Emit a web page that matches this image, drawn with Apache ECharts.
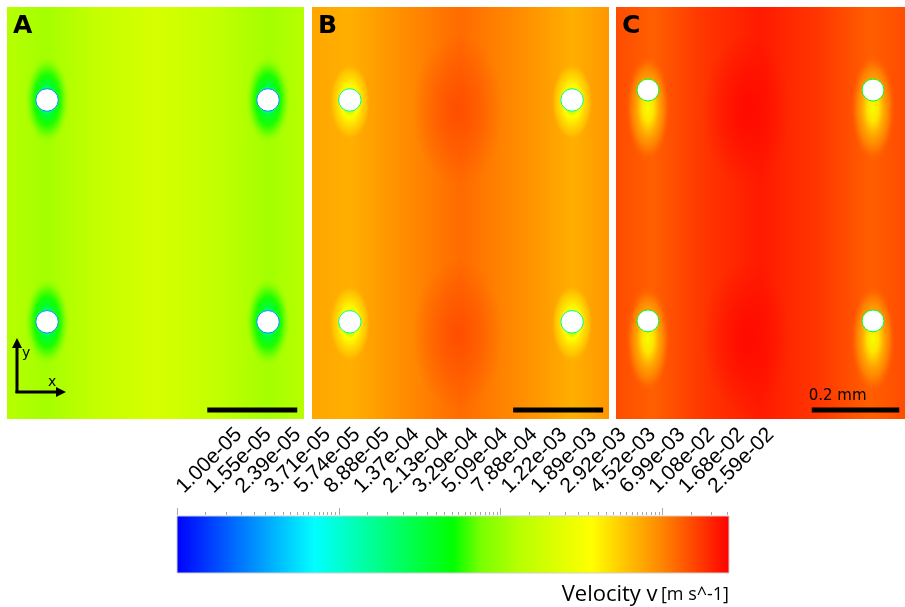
<!DOCTYPE html>
<html>
<head>
<meta charset="utf-8">
<script src="https://cdn.jsdelivr.net/npm/echarts@6/dist/echarts.min.js"></script>
<style>
html, body { margin: 0; padding: 0; background: #fff; }
#chart { width: 905px; height: 607px; }
</style>
</head>
<body>
<div id="chart"></div>
<script>
// legend scale, velocity v [m s^-1]
const vMin = 1.00e-5;
const vMax = 2.59e-2;
const tickLabels = ['1.00e-05', '1.55e-05', '2.39e-05', '3.71e-05', '5.74e-05', '8.88e-05',
  '1.37e-04', '2.13e-04', '3.29e-04', '5.09e-04', '7.88e-04', '1.22e-03', '1.89e-03',
  '2.92e-03', '4.52e-03', '6.99e-03', '1.08e-02', '1.68e-02', '2.59e-02'];

const panelLabels = ['A', 'B', 'C'];

// post centres [x, y] in mm
const postsA = [[0.089, 0.709], [0.580, 0.709], [0.089, 0.216], [0.580, 0.216]];
const postsB = [[0.084, 0.709], [0.578, 0.709], [0.084, 0.216], [0.578, 0.216]];
const postsC = [[0.073, 0.731], [0.587, 0.731], [0.073, 0.218], [0.587, 0.218]];
const postRadius = 0.025;

// velocity across the channel width (x in mm)
const profileX = [0, 0.085, 0.2, 0.33, 0.46, 0.58, 0.66];
const velA = [1.3e-3, 1.1e-3, 1.55e-3, 2.0e-3, 1.55e-3, 1.1e-3, 1.3e-3];
const velB = [7.6e-3, 7.0e-3, 9.2e-3, 1.2e-2, 9.4e-3, 7.0e-3, 8.6e-3];
const velC = [1.5e-2, 1.3e-2, 1.75e-2, 2.15e-2, 1.75e-2, 1.3e-2, 1.5e-2];

// fastest spots between the posts [x, y, v]
const coresA = [];
const coresB = [[0.324, 0.687, 1.5e-2], [0.324, 0.187, 1.5e-2]];
const coresC = [[0.298, 0.687, 2.45e-2], [0.298, 0.180, 2.45e-2]];

// slow wake around each post, from the wall outwards
const haloVelA = [1.6e-4, 3.5e-4, 5.5e-4, 8.5e-4, 1.1e-3];
const haloVelB = [1.3e-3, 3.6e-3, 5.0e-3, 6.2e-3, 7.0e-3];
const haloVelC = [3.0e-3, 4.5e-3, 7.5e-3, 1.05e-2, 1.3e-2];
const wallVel = [3.0e-5, 2.0e-4, 4.0e-4];

const scaleBarX = [0.445, 0.447, 0.447];
const scaleBarLen = 0.2;
const scaleBarText = ['', '', '0.2 mm'];

const posts = [postsA, postsB, postsC];
const profiles = [velA, velB, velC];
const cores = [coresA, coresB, coresC];
const haloVel = [haloVelA, haloVelB, haloVelC];

// drawing settings
const panelW = 0.66, panelH = 0.9156;
const panelLeft = [7, 312, 616];
const haloPos = [[0.2, 0.35, 0.55, 0.8, 1], [0.25, 0.4, 0.65, 0.85, 1], [0, 0.25, 0.5, 0.75, 1]];
const haloRx = [0.05, 0.045, 0.05];
const haloRy = [0.1, 0.085, 0.12];
const haloShift = [0, 0.004, 0.04];
const coreRx = 0.1, coreRy = 0.17;

const cmapPos = [0, 0.25, 0.5, 0.55, 0.62, 0.75, 0.875, 1];
const cmapRgb = [[0, 0, 255], [0, 255, 255], [0, 255, 0], [120, 255, 0], [184, 255, 0],
  [255, 255, 0], [255, 136, 0], [255, 0, 0]];

function rgbAt(t) {
  t = Math.max(0, Math.min(1, t));
  for (let i = 1; i < cmapPos.length; i++) {
    if (t <= cmapPos[i]) {
      const f = (t - cmapPos[i - 1]) / (cmapPos[i] - cmapPos[i - 1]);
      const a = cmapRgb[i - 1], b = cmapRgb[i];
      return a.map((c, k) => Math.round(c + (b[k] - c) * f));
    }
  }
  return cmapRgb[cmapRgb.length - 1];
}
function velColor(v, alpha) {
  const t = (Math.log10(v) - Math.log10(vMin)) / (Math.log10(vMax) - Math.log10(vMin));
  const c = rgbAt(t);
  return 'rgba(' + c[0] + ',' + c[1] + ',' + c[2] + ',' + (alpha == null ? 1 : alpha) + ')';
}

const chart = echarts.init(document.getElementById('chart'));

const grid = [], xAxis = [], yAxis = [], series = [];

panelLabels.forEach((name, p) => {
  grid.push({ left: panelLeft[p], top: 7, width: 297, height: 412 });
  xAxis.push({ gridIndex: p, type: 'value', min: 0, max: panelW, show: false });
  yAxis.push({ gridIndex: p, type: 'value', min: 0, max: panelH, show: false });

  // background field
  series.push({
    type: 'custom', xAxisIndex: p, yAxisIndex: p, z: 1, clip: true,
    data: [[0, 0]],
    renderItem: (params, api) => {
      const tl = api.coord([0, panelH]);
      const br = api.coord([panelW, 0]);
      const stops = profileX.map((x, i) => ({ offset: x / panelW, color: velColor(profiles[p][i]) }));
      return {
        type: 'rect',
        shape: { x: tl[0], y: tl[1], width: br[0] - tl[0], height: br[1] - tl[1] },
        style: { fill: new echarts.graphic.LinearGradient(0, 0, 1, 0, stops) }
      };
    }
  });

  // fast cores
  series.push({
    type: 'custom', xAxisIndex: p, yAxisIndex: p, z: 2, clip: true,
    data: cores[p],
    renderItem: (params, api) => {
      const c = api.coord([api.value(0), api.value(1)]);
      const v = api.value(2);
      const rx = Math.abs(api.size([coreRx, 0])[0]);
      const ry = Math.abs(api.size([0, coreRy])[1]);
      return {
        type: 'circle', x: c[0], y: c[1], scaleY: ry / rx,
        shape: { cx: 0, cy: 0, r: rx },
        style: {
          fill: new echarts.graphic.RadialGradient(0.5, 0.5, 0.5, [
            { offset: 0, color: velColor(v, 0.95) },
            { offset: 0.5, color: velColor(v, 0.5) },
            { offset: 1, color: velColor(v, 0) }
          ])
        }
      };
    }
  });

  // slow halos round posts
  series.push({
    type: 'custom', xAxisIndex: p, yAxisIndex: p, z: 3, clip: true,
    data: posts[p],
    renderItem: (params, api) => {
      const c = api.coord([api.value(0), api.value(1) - haloShift[p]]);
      const rx = Math.abs(api.size([haloRx[p], 0])[0]);
      const ry = Math.abs(api.size([0, haloRy[p]])[1]);
      const hv = haloVel[p];
      const stops = hv.map((v, i) => ({ offset: haloPos[p][i], color: velColor(v, i === hv.length - 1 ? 0 : 1) }));
      return {
        type: 'circle', x: c[0], y: c[1], scaleY: ry / rx,
        shape: { cx: 0, cy: 0, r: rx },
        style: { fill: new echarts.graphic.RadialGradient(0.5, 0.5, 0.5, stops) }
      };
    }
  });

  // posts
  series.push({
    type: 'custom', xAxisIndex: p, yAxisIndex: p, z: 4,
    data: posts[p],
    renderItem: (params, api) => {
      const c = api.coord([api.value(0), api.value(1)]);
      const r = Math.abs(api.size([postRadius, 0])[0]);
      return {
        type: 'circle',
        shape: { cx: c[0], cy: c[1], r: r },
        style: { fill: '#fff', stroke: velColor(wallVel[p]), lineWidth: 1 }
      };
    }
  });

  // scale bar
  series.push({
    type: 'custom', xAxisIndex: p, yAxisIndex: p, z: 5,
    data: [[scaleBarX[p], 0.02]],
    renderItem: (params, api) => {
      const a = api.coord([api.value(0), api.value(1)]);
      const b = api.coord([api.value(0) + scaleBarLen, api.value(1)]);
      return {
        type: 'group',
        children: [
          { type: 'rect', shape: { x: a[0], y: a[1] - 2.5, width: b[0] - a[0], height: 5 }, style: { fill: '#000' } },
          {
            type: 'text', x: a[0] - 3, y: a[1] - 6,
            style: { text: scaleBarText[p], fill: '#000', font: '15px "DejaVu Sans"', textVerticalAlign: 'bottom' }
          }
        ]
      };
    }
  });
});

// colour bar
const minorTicks = [];
[1e-5, 1e-4, 1e-3, 1e-2].forEach(d => {
  for (let n = 1; n < 10; n += 0.5) if (d * n <= vMax) minorTicks.push(d * n);
});
grid.push({ left: 177, top: 516, width: 552, height: 57 });
xAxis.push({ gridIndex: 3, type: 'log', logBase: 10, min: vMin, max: vMax, show: false });
yAxis.push({ gridIndex: 3, type: 'value', min: 0, max: 1, show: false });
series.push({
  type: 'custom', xAxisIndex: 3, yAxisIndex: 3, z: 2,
  data: [[vMin, 0]],
  renderItem: (params, api) => {
    const a = api.coord([vMin, 1]);
    const b = api.coord([vMax, 0]);
    const stops = cmapPos.map((o, i) => ({ offset: o, color: 'rgb(' + cmapRgb[i].join(',') + ')' }));
    return {
      type: 'rect',
      shape: { x: a[0], y: a[1], width: b[0] - a[0], height: b[1] - a[1] },
      style: { fill: new echarts.graphic.LinearGradient(0, 0, 1, 0, stops), stroke: '#d0d0d0', lineWidth: 1 }
    };
  }
});
// small ticks on top of the bar
series.push({
  type: 'custom', xAxisIndex: 3, yAxisIndex: 3, z: 2,
  data: minorTicks.map(v => [v, 1]),
  renderItem: (params, api) => {
    const v = api.value(0);
    const a = api.coord([v, 1]);
    const isDecade = Math.abs(Math.log10(v) - Math.round(Math.log10(v))) < 1e-6;
    return {
      type: 'line',
      shape: { x1: Math.round(a[0]) + 0.5, y1: a[1] - 1, x2: Math.round(a[0]) + 0.5, y2: a[1] - (isDecade ? 8 : 4) },
      style: { stroke: '#a8a8a8', lineWidth: 1 }
    };
  }
});

// legend tick labels
grid.push({ left: 180, top: 516, width: 532, height: 57 });
xAxis.push({
  gridIndex: 4, type: 'category', data: tickLabels, boundaryGap: false, position: 'top',
  axisLine: { show: false }, splitLine: { show: false },
  axisTick: { show: true, length: 6, lineStyle: { color: '#a8a8a8' } },
  axisLabel: { interval: 0, rotate: 45, margin: 26, fontSize: 21, color: '#000', fontFamily: 'Liberation Sans' }
});
yAxis.push({ gridIndex: 4, type: 'value', min: 0, max: 1, show: false });

const option = {
  animation: false,
  backgroundColor: '#fff',
  grid: grid,
  xAxis: xAxis,
  yAxis: yAxis,
  series: series,
  graphic: [
    ...panelLabels.map((name, p) => ({
      type: 'text', left: panelLeft[p] + 6, top: 14, z: 10,
      style: { text: name, fill: '#000', font: 'bold 25px "DejaVu Sans"' }
    })),
    // coordinate arrows in panel A
    { type: 'line', z: 10, shape: { x1: 17, y1: 393, x2: 17, y2: 346 }, style: { stroke: '#000', lineWidth: 3 } },
    { type: 'polygon', z: 10, shape: { points: [[12, 348], [22, 348], [17, 338]] }, style: { fill: '#000' } },
    { type: 'line', z: 10, shape: { x1: 15.5, y1: 392, x2: 58, y2: 392 }, style: { stroke: '#000', lineWidth: 3 } },
    { type: 'polygon', z: 10, shape: { points: [[56, 387], [56, 397], [66, 392]] }, style: { fill: '#000' } },
    { type: 'text', z: 10, x: 22, y: 346, style: { text: 'y', fill: '#000', font: '14px "DejaVu Sans"' } },
    { type: 'text', z: 10, x: 48, y: 375, style: { text: 'x', fill: '#000', font: '14px "DejaVu Sans"' } },
    {
      type: 'text', z: 10, right: 905 - 729, top: 584,
      style: {
        text: '{a|Velocity v} {b|[m s^-1]}',
        rich: {
          a: { fontSize: 22, fontFamily: 'Open Sans', fontWeight: 500, fill: '#000' },
          b: { fontSize: 18, fontFamily: 'Open Sans', fill: '#000' }
        }
      }
    }
  ]
};
chart.setOption(option);
</script>
</body>
</html>
